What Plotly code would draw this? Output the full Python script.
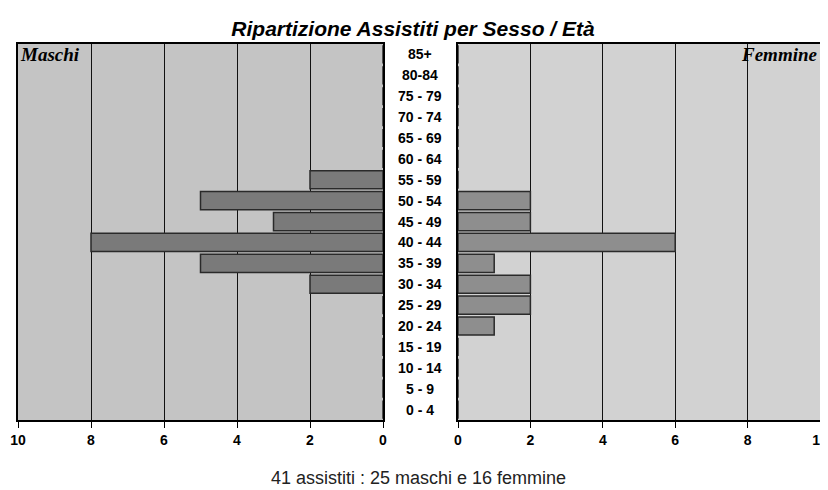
import plotly.graph_objects as go

categories = ["0 - 4", "5 - 9", "10 - 14", "15 - 19", "20 - 24", "25 - 29", "30 - 34",
              "35 - 39", "40 - 44", "45 - 49", "50 - 54", "55 - 59", "60 - 64",
              "65 - 69", "70 - 74", "75 - 79", "80-84", "85+"]
maschi = [0, 0, 0, 0, 0, 0, 2, 5, 8, 3, 5, 2, 0, 0, 0, 0, 0, 0]
femmine = [0, 0, 0, 0, 1, 2, 2, 1, 6, 2, 2, 0, 0, 0, 0, 0, 0, 0]
tick_vals = [0, 2, 4, 6, 8, 10]
tick_text = ["<b>0</b>", "<b>2</b>", "<b>4</b>", "<b>6</b>", "<b>8</b>", "<b>10</b>"]

ypos = list(range(len(categories)))

bar_line = "#2a2a2a"

fig = go.Figure()
fig.add_trace(go.Bar(x=maschi, y=ypos, orientation="h", xaxis="x", yaxis="y",
                     marker=dict(color="#7a7a7a", line=dict(color=bar_line, width=1.5)),
                     name="Maschi", showlegend=False))
fig.add_trace(go.Bar(x=femmine, y=ypos, orientation="h", xaxis="x2", yaxis="y2",
                     marker=dict(color="#8e8e8e", line=dict(color=bar_line, width=1.5)),
                     name="Femmine", showlegend=False))

# page body has 8px default margin -> reference coords shifted by 8
W, H = 820, 482
L, R, T, B = 10, 8, 36, H - 412
PW = W - L - R
PH = H - T - B

tickfont = dict(family="Liberation Sans", size=14, color="black")
common_x = dict(tickvals=tick_vals, ticktext=tick_text, showgrid=True, gridcolor="#111",
                gridwidth=1, ticks="outside", ticklen=6, tickcolor="black",
                showline=True, linecolor="black", linewidth=1.5, mirror=True,
                zeroline=False, tickfont=tickfont, automargin=False,
                ticklabeloverflow="allow")
common_y = dict(range=[-0.5, 17.5], showticklabels=False, showgrid=False, zeroline=False,
                showline=True, linecolor="black", linewidth=1.5, mirror=True, automargin=False)

fig.update_layout(
    width=W, height=H,
    margin=dict(l=L, r=R, t=T, b=B, autoexpand=False),
    paper_bgcolor="white", plot_bgcolor="#c4c4c4",
    bargap=0.13,
    xaxis=dict(domain=[0, 365 / PW], range=[10, 0], anchor="y", **common_x),
    xaxis2=dict(domain=[440 / PW, 1], range=[0, 10], anchor="y2", **common_x),
    yaxis=dict(domain=[0, 1], anchor="x", **common_y),
    yaxis2=dict(domain=[0, 1], anchor="x2", **common_y),
    title=dict(text="<b><i>Ripartizione Assistiti per Sesso / Età</i></b>",
               x=405 / W, xanchor="center", y=1 - 21 / H, yanchor="middle",
               font=dict(family="Liberation Sans", size=21, color="black")),
)

fig.add_shape(type="rect", xref="x2 domain", yref="y2 domain", x0=0, x1=1, y0=0, y1=1,
              fillcolor="#d2d2d2", line=dict(width=0), layer="below")

annotations = []
for i, c in enumerate(categories):
    annotations.append(dict(text="<b>" + c + "</b>", x=(412 - L) / PW, xref="paper",
                            y=i, yref="y", showarrow=False, xanchor="center",
                            font=dict(family="Liberation Sans", size=14, color="black")))
annotations.append(dict(text="<b><i>Maschi</i></b>", x=0, xref="x domain", y=1, yref="y domain",
                        xanchor="left", yanchor="top", showarrow=False, xshift=0, yshift=2,
                        font=dict(family="Liberation Serif", size=19, color="black")))
annotations.append(dict(text="<b><i>Femmine</i></b>", x=1, xref="x2 domain", y=1, yref="y2 domain",
                        xanchor="right", yanchor="top", showarrow=False, xshift=0, yshift=2,
                        font=dict(family="Liberation Serif", size=19, color="black")))
annotations.append(dict(text="41 assistiti : 25 maschi e 16 femmine", x=(410 - L) / PW, xref="paper",
                        y=-(470 - 412) / PH, yref="paper", yanchor="middle",
                        showarrow=False,
                        font=dict(family="Liberation Sans", size=18, color="#222")))
fig.update_layout(annotations=annotations)

fig.write_html("out.html")
